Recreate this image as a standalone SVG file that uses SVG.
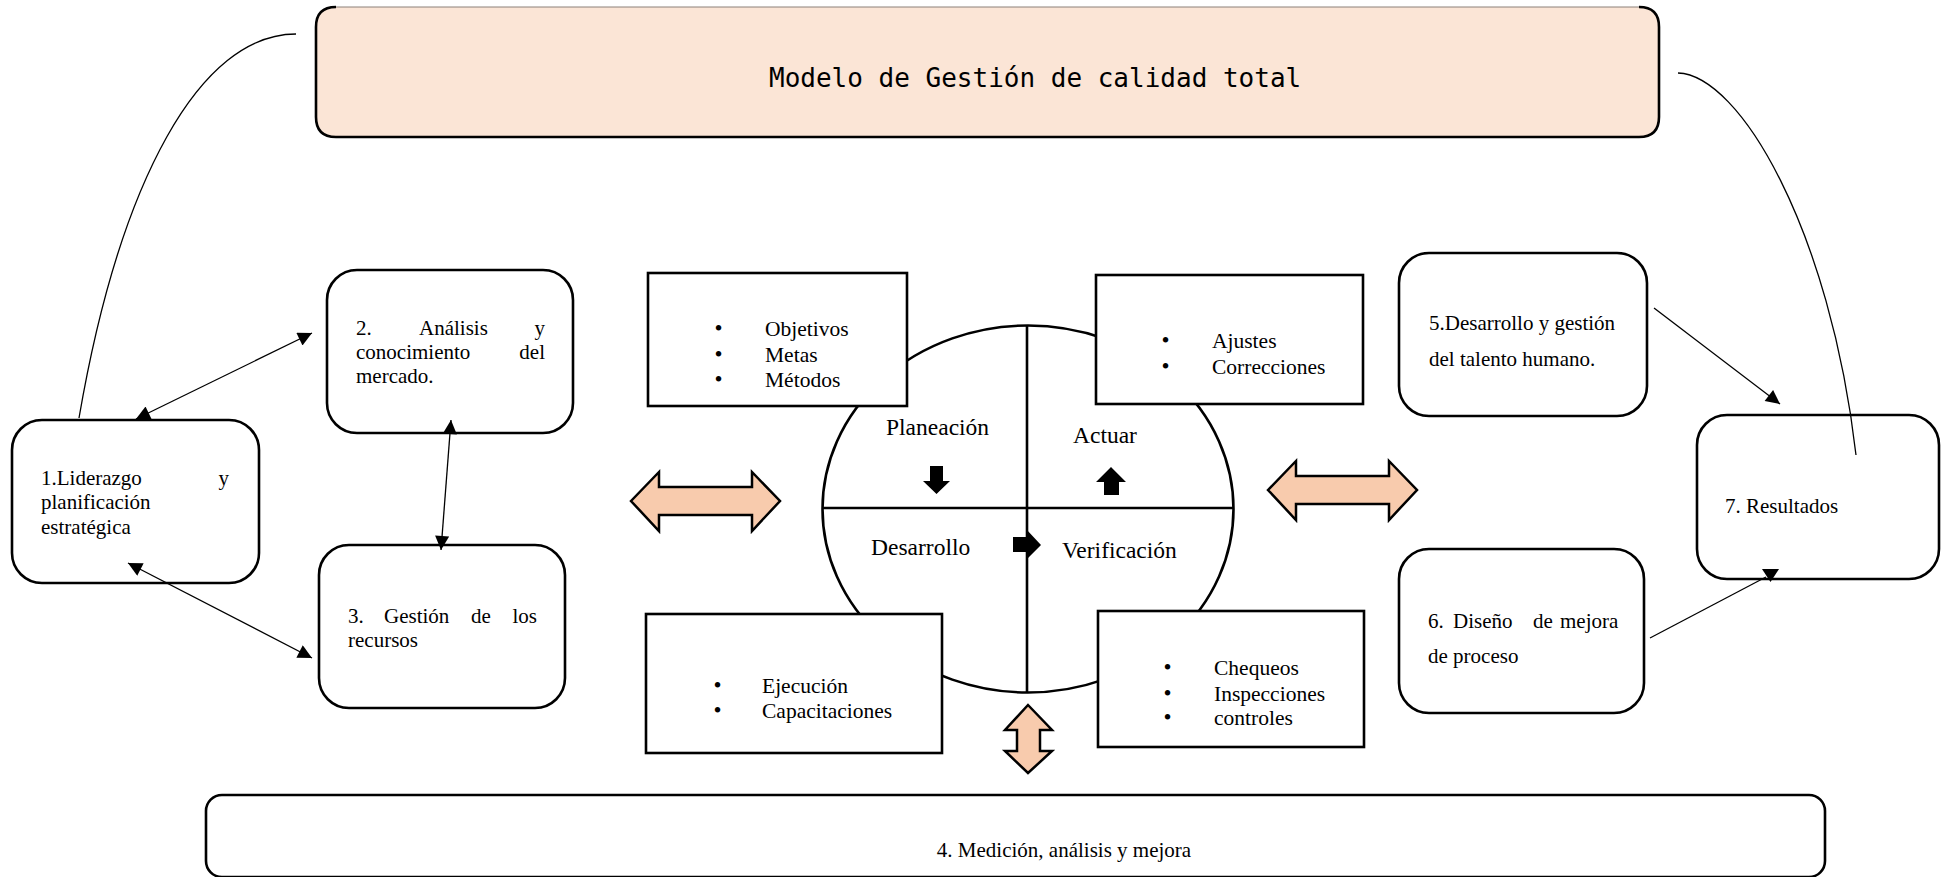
<svg xmlns="http://www.w3.org/2000/svg" width="1941" height="877" viewBox="0 0 1941 877">
<style>
.box{fill:#fff;stroke:#000;stroke-width:2.6}
.t{font-family:"Liberation Serif","Times New Roman",serif;font-size:21px;fill:#000}
.lbl{font-family:"Liberation Serif","Times New Roman",serif;font-size:23.5px;fill:#000}
.li{font-family:"Liberation Serif","Times New Roman",serif;font-size:21.5px;fill:#000}
.bu{font-size:23px}
.con{fill:none;stroke:#000;stroke-width:1.3}
.peach{fill:#F8CBAD;stroke:#000;stroke-width:2.5;stroke-linejoin:miter}
.blk{fill:#000}
</style>
<defs>
<marker id="ah" viewBox="0 0 10 10" refX="10" refY="5" markerWidth="17" markerHeight="14" markerUnits="userSpaceOnUse" orient="auto-start-reverse"><path d="M0,0 L10,5 L0,10 z" fill="#000"/></marker>
</defs>
<rect width="1941" height="877" fill="#fff"/>

<g id="title">
<path d="M334,7 H1641 Q1659,7 1659,25 V119 Q1659,137 1641,137 H334 Q316,137 316,119 V25 Q316,7 334,7 Z" fill="#FBE5D6"/>
<path d="M336,7 Q316,7 316,27 V117 Q316,137 336,137 H1639 Q1659,137 1659,117 V27 Q1659,7 1639,7" fill="none" stroke="#000" stroke-width="2.6"/>
<line x1="336" y1="7" x2="1639" y2="7" stroke="#8c8079" stroke-width="1"/>
<text x="769" y="87" font-family="'DejaVu Sans Mono',monospace" font-size="26" fill="#000">Modelo de Gestión de calidad total</text>
</g>

<g id="node1">
<rect class="box" x="12" y="420" width="247" height="163" rx="30"/>
<text class="t" x="41" y="485">1.Liderazgo</text>
<text class="t" x="229" y="485" text-anchor="end">y</text>
<text class="t" x="41" y="509">planificación</text>
<text class="t" x="41" y="534">estratégica</text>
</g>

<g id="node2">
<rect class="box" x="327" y="270" width="246" height="163" rx="30"/>
<text class="t" x="356" y="335">2.</text>
<text class="t" x="419" y="335">Análisis</text>
<text class="t" x="545" y="335" text-anchor="end">y</text>
<text class="t" x="356" y="359">conocimiento</text>
<text class="t" x="545" y="359" text-anchor="end">del</text>
<text class="t" x="356" y="383">mercado.</text>
</g>

<g id="node3">
<rect class="box" x="319" y="545" width="246" height="163" rx="30"/>
<text class="t" x="348" y="623">3.</text>
<text class="t" x="384" y="623">Gestión</text>
<text class="t" x="471" y="623">de</text>
<text class="t" x="537" y="623" text-anchor="end">los</text>
<text class="t" x="348" y="647">recursos</text>
</g>

<g id="pdca">
<ellipse cx="1028" cy="509" rx="205.5" ry="183.5" fill="#fff" stroke="#000" stroke-width="2.6"/>
<line x1="822" y1="508" x2="1233" y2="508" stroke="#000" stroke-width="2.6"/>
<line x1="1027" y1="326" x2="1027" y2="693" stroke="#000" stroke-width="2.6"/>
<text class="lbl" x="886" y="435">Planeación</text>
<text class="lbl" x="1073" y="443">Actuar</text>
<text class="lbl" x="871" y="555">Desarrollo</text>
<text class="lbl" x="1062" y="558">Verificación</text>
<polygon class="blk" points="930,466 943,466 943,481 950,481 936.5,494 923,481 930,481"/>
<polygon class="blk" points="1111,467 1126,482 1119,482 1119,495 1104,495 1104,482 1096,482"/>
<polygon class="blk" points="1013,537 1026,537 1026,529 1041,545 1026,560 1026,552 1013,552"/>
</g>

<g id="plan-box">
<rect class="box" x="648" y="273" width="259" height="133"/>
<text class="li" y="336"><tspan class="bu" x="714.5">•</tspan><tspan x="765">Objetivos</tspan></text>
<text class="li" y="362"><tspan class="bu" x="714.5">•</tspan><tspan x="765">Metas</tspan></text>
<text class="li" y="387"><tspan class="bu" x="714.5">•</tspan><tspan x="765">Métodos</tspan></text>
</g>

<g id="act-box">
<rect class="box" x="1096" y="275" width="267" height="129"/>
<text class="li" y="348"><tspan class="bu" x="1161.5">•</tspan><tspan x="1212">Ajustes</tspan></text>
<text class="li" y="374"><tspan class="bu" x="1161.5">•</tspan><tspan x="1212">Correcciones</tspan></text>
</g>

<g id="do-box">
<rect class="box" x="646" y="614" width="296" height="139"/>
<text class="li" y="693"><tspan class="bu" x="713.5">•</tspan><tspan x="762">Ejecución</tspan></text>
<text class="li" y="718"><tspan class="bu" x="713.5">•</tspan><tspan x="762">Capacitaciones</tspan></text>
</g>

<g id="check-box">
<rect class="box" x="1098" y="611" width="266" height="136"/>
<text class="li" y="675"><tspan class="bu" x="1163.5">•</tspan><tspan x="1214">Chequeos</tspan></text>
<text class="li" y="701"><tspan class="bu" x="1163.5">•</tspan><tspan x="1214">Inspecciones</tspan></text>
<text class="li" y="725"><tspan class="bu" x="1163.5">•</tspan><tspan x="1214">controles</tspan></text>
</g>

<g id="node5">
<rect class="box" x="1399" y="253" width="248" height="163" rx="30"/>
<text class="t" x="1429" y="330">5.Desarrollo y gestión</text>
<text class="t" x="1429" y="366">del talento humano.</text>
</g>

<g id="node6">
<rect class="box" x="1399" y="549" width="245" height="164" rx="30"/>
<text class="t" x="1428" y="628">6.</text>
<text class="t" x="1453" y="628">Diseño</text>
<text class="t" x="1533" y="628">de</text>
<text class="t" x="1560" y="628">mejora</text>
<text class="t" x="1428" y="663">de proceso</text>
</g>

<g id="node7">
<rect class="box" x="1697" y="415" width="242" height="164" rx="30"/>
<text class="t" x="1725" y="513">7. Resultados</text>
</g>

<g id="node4">
<rect class="box" x="206" y="795" width="1619" height="82" rx="16"/>
<text class="t" x="1064" y="857" text-anchor="middle">4. Medición, análisis y mejora</text>
</g>

<g id="peach-arrows">
<polygon class="peach" points="631,501 659,472 659,487 752,487 752,472 780,501 752,531 752,515 659,515 659,531"/>
<polygon class="peach" points="1268,490 1296,461 1296,476 1389,476 1389,461 1417,490 1389,520 1389,504 1296,504 1296,520"/>
<polygon class="peach" points="1028,705 1052,730 1040,730 1040,751 1052,751 1028,773 1005,751 1017,751 1017,730 1005,730"/>
</g>

<g id="connectors">
<path class="con" d="M296,34 C200,34 120,180 79,418"/>
<path class="con" d="M1678,73 C1740,75 1830,230 1856,455"/>
<line class="con" x1="136" y1="419" x2="312" y2="333" marker-start="url(#ah)" marker-end="url(#ah)"/>
<line class="con" x1="451" y1="420" x2="441" y2="550" marker-start="url(#ah)" marker-end="url(#ah)"/>
<line class="con" x1="128" y1="563" x2="312" y2="658" marker-start="url(#ah)" marker-end="url(#ah)"/>
<line class="con" x1="1654" y1="308" x2="1780" y2="404" marker-end="url(#ah)"/>
<line class="con" x1="1650" y1="638" x2="1766" y2="577"/>
<polygon class="blk" points="1762,569 1779,569 1770.5,582"/>
</g>
</svg>
